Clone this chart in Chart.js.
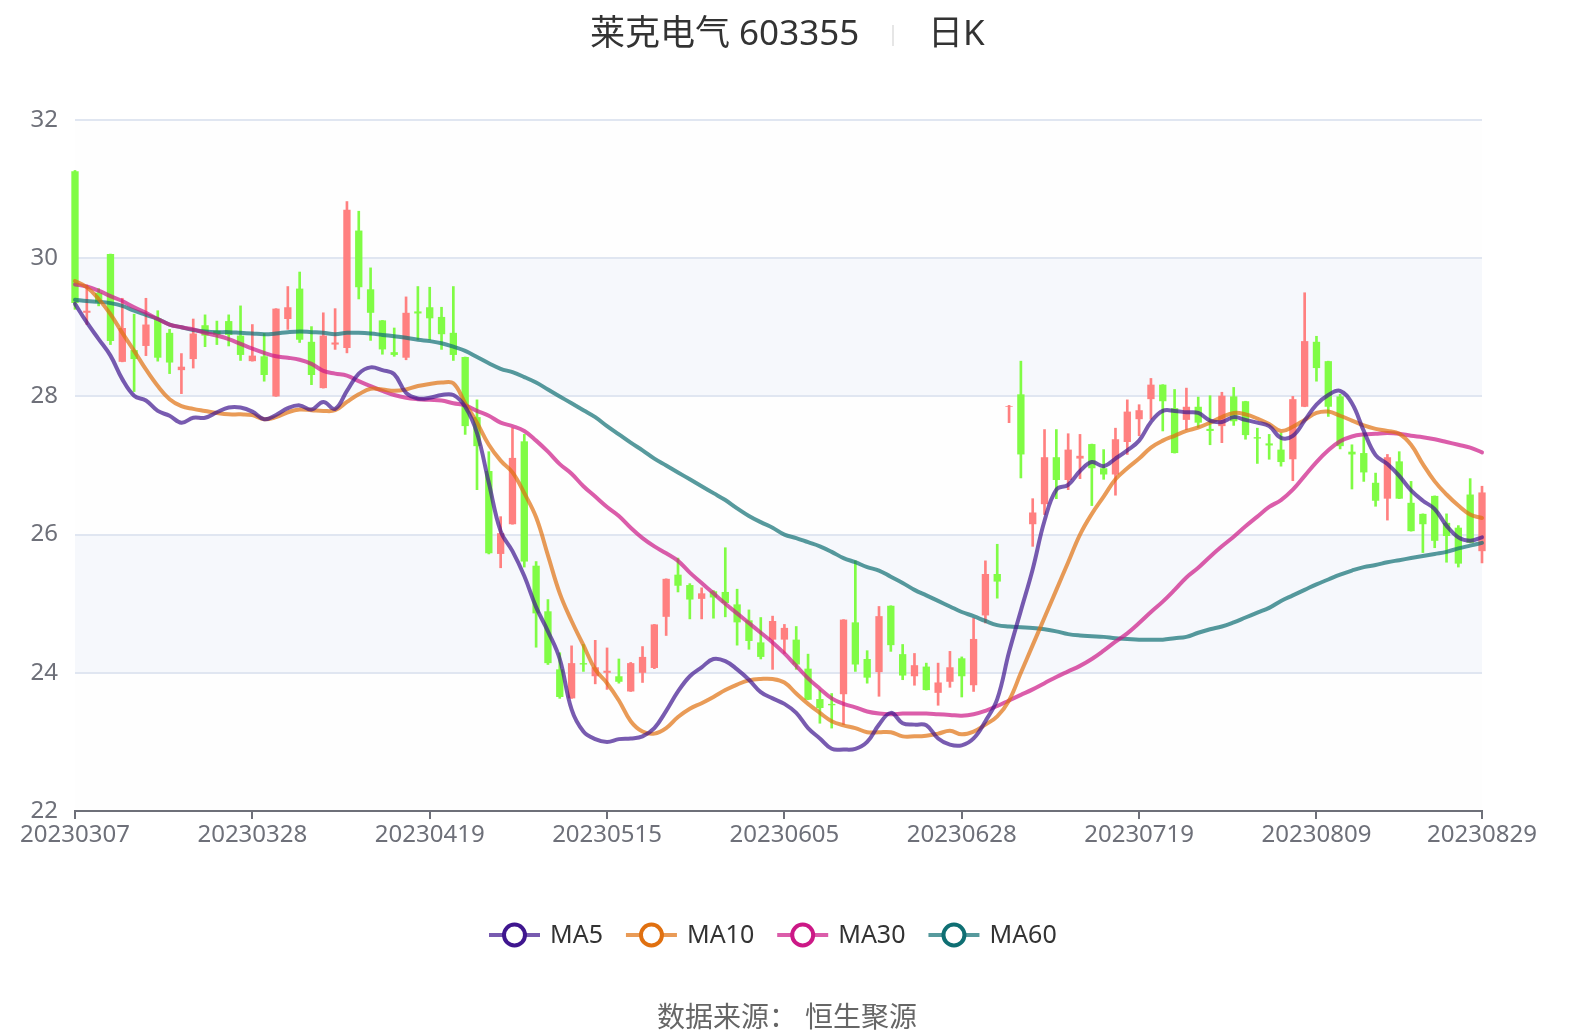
<!DOCTYPE html>
<html>
<head>
<meta charset="utf-8">
<script src="https://cdn.jsdelivr.net/npm/chart.js@4.4.0/dist/chart.umd.min.js"></script>
<style>
  html, body { margin: 0; padding: 0; background: #fff; }
  #wrap { width: 1574px; height: 1034px; }
</style>
</head>
<body>
<div id="wrap"><canvas id="kline" width="1574" height="1034"></canvas></div>
<script>
// trading days
const dates = [
  '20230307','20230308','20230309','20230310','20230313','20230314','20230315','20230316','20230317','20230320',
  '20230321','20230322','20230323','20230324','20230327','20230328','20230329','20230330','20230331','20230403',
  '20230404','20230406','20230407','20230410','20230411','20230412','20230413','20230414','20230417','20230418',
  '20230419','20230420','20230421','20230424','20230425','20230426','20230427','20230428','20230504','20230505',
  '20230508','20230509','20230510','20230511','20230512','20230515','20230516','20230517','20230518','20230519',
  '20230522','20230523','20230524','20230525','20230526','20230529','20230530','20230531','20230601','20230602',
  '20230605','20230606','20230607','20230608','20230609','20230612','20230613','20230614','20230615','20230616',
  '20230619','20230620','20230621','20230626','20230627','20230628','20230629','20230630','20230703','20230704',
  '20230705','20230706','20230707','20230710','20230711','20230712','20230713','20230714','20230717','20230718',
  '20230719','20230720','20230721','20230724','20230725','20230726','20230727','20230728','20230731','20230801',
  '20230802','20230803','20230804','20230807','20230808','20230809','20230810','20230811','20230814','20230815',
  '20230816','20230817','20230818','20230821','20230822','20230823','20230824','20230825','20230828','20230829'
];
const tickDates = ['20230307','20230328','20230419','20230515','20230605','20230628','20230719','20230809','20230829'];
const yTicks = [22, 24, 26, 28, 30, 32];

const opens = [
  31.26,29.21,29.50,30.06,28.50,28.67,28.73,29.13,28.92,28.38,
  28.54,29.03,28.95,29.09,28.88,28.51,28.58,28.00,29.12,29.56,
  28.79,28.12,28.75,28.70,30.40,29.55,29.10,28.64,28.56,29.23,
  29.29,29.15,28.92,28.57,27.70,26.92,25.72,26.15,27.35,25.55,
  24.89,24.05,23.63,24.14,23.95,24.00,23.95,23.73,24.00,24.07,
  24.81,25.42,25.27,25.07,25.18,25.17,24.99,24.76,24.44,24.48,
  24.48,24.48,24.06,23.62,23.55,23.69,24.73,24.20,24.01,24.97,
  24.27,23.95,24.09,23.71,23.87,24.21,23.82,24.83,25.43,27.85,
  28.03,26.15,26.44,27.12,26.79,27.10,27.31,26.96,26.87,27.34,
  27.67,27.96,28.17,27.83,27.66,27.85,27.53,27.57,28.00,27.93,
  27.41,27.32,27.23,27.09,27.85,28.79,28.51,28.00,27.20,27.18,
  26.75,26.52,27.06,26.46,26.30,26.56,26.17,26.10,26.58,25.76
];
const closes = [
  29.35,29.24,29.36,28.80,28.99,28.54,29.04,28.56,28.49,28.43,
  28.91,28.88,28.89,28.89,28.60,28.59,28.31,29.27,29.29,28.82,
  28.31,28.88,28.78,30.70,29.58,29.21,28.68,28.60,29.21,29.20,
  29.13,28.90,28.60,27.57,27.28,25.73,26.02,27.11,25.61,24.86,
  24.14,23.65,24.14,24.12,24.08,24.03,23.87,24.14,24.23,24.70,
  25.36,25.26,25.06,25.15,25.09,25.01,24.73,24.46,24.23,24.75,
  24.65,24.12,23.61,23.49,23.53,24.77,24.12,23.93,24.82,24.40,
  23.96,24.11,23.75,23.86,24.08,23.95,24.49,25.43,25.32,27.86,
  27.16,26.32,27.12,26.79,27.23,27.14,26.96,26.87,27.38,27.78,
  27.80,28.17,27.93,27.18,27.85,27.62,27.50,28.01,27.64,27.44,
  27.39,27.29,27.05,27.96,28.80,28.41,27.85,27.28,27.16,26.90,
  26.49,27.12,26.52,26.05,26.15,25.91,25.98,25.58,25.88,26.61
];
const lows = [
  29.26,29.04,29.31,28.75,28.50,28.07,28.59,28.51,28.33,28.04,
  28.41,28.72,28.75,28.73,28.52,28.51,28.22,28.00,28.97,28.78,
  28.17,28.12,28.68,28.63,29.41,28.81,28.61,28.58,28.53,28.82,
  28.82,28.68,28.52,27.45,26.65,25.72,25.52,26.15,25.53,24.37,
  24.12,23.63,23.63,24.02,23.84,23.76,23.85,23.73,23.86,24.06,
  24.54,25.17,24.78,24.78,24.79,24.81,24.40,24.34,24.20,24.05,
  24.28,24.05,23.61,23.27,23.20,23.25,24.02,23.85,23.66,24.31,
  23.90,23.82,23.75,23.53,23.79,23.65,23.73,24.72,25.08,27.62,
  26.82,25.83,26.29,26.52,26.65,26.81,26.42,26.80,26.57,27.16,
  27.43,27.67,27.50,27.18,27.52,27.55,27.30,27.33,27.58,27.38,
  27.03,27.09,26.99,26.78,27.85,28.22,27.71,27.24,26.66,26.77,
  26.41,26.21,26.52,26.05,25.74,25.81,25.60,25.53,25.88,25.59
];
const highs = [
  31.27,29.61,29.56,30.06,29.42,29.19,29.42,29.24,28.97,28.62,
  29.12,29.18,29.09,29.18,29.31,29.04,28.91,29.27,29.59,29.80,
  29.01,29.21,29.27,30.82,30.68,29.86,29.10,28.99,29.44,29.59,
  29.58,29.29,29.59,28.57,27.95,27.20,26.26,27.54,27.45,25.61,
  25.06,24.29,24.39,24.41,24.47,24.36,24.20,24.15,24.38,24.70,
  25.36,25.66,25.29,25.23,25.19,25.81,25.21,24.91,24.80,24.82,
  24.70,24.67,24.27,23.75,23.70,24.77,25.62,24.32,24.96,24.97,
  24.41,24.28,24.14,24.14,24.31,24.23,24.79,25.62,25.86,27.87,
  28.51,26.52,27.52,27.52,27.46,27.45,27.31,27.23,27.54,27.95,
  27.88,28.26,28.17,28.10,28.12,27.99,28.01,28.06,28.13,27.93,
  27.54,27.45,27.47,28.00,29.50,28.87,28.51,28.03,27.30,27.47,
  26.89,27.16,27.20,26.77,26.30,26.56,26.30,26.13,26.81,26.70
];

const ma5 = [
  29.34,29.07,28.83,28.59,28.25,28.01,27.94,27.79,27.72,27.62,
  27.69,27.69,27.77,27.84,27.84,27.78,27.67,27.73,27.83,27.87,
  27.81,27.92,27.82,28.08,28.33,28.42,28.38,28.32,28.05,27.97,
  27.98,28.02,28.02,27.85,27.47,26.75,26.05,25.76,25.40,24.95,
  24.60,24.20,23.47,23.15,23.04,23.00,23.04,23.05,23.08,23.20,
  23.45,23.73,23.95,24.08,24.20,24.17,24.05,23.90,23.72,23.63,
  23.55,23.42,23.20,23.05,22.90,22.89,22.90,23.00,23.25,23.42,
  23.27,23.25,23.24,23.05,22.96,22.95,23.05,23.30,23.62,24.30,
  24.90,25.50,26.20,26.65,26.72,26.92,27.05,26.99,27.10,27.22,
  27.36,27.63,27.79,27.79,27.77,27.76,27.65,27.63,27.70,27.66,
  27.62,27.57,27.40,27.43,27.65,27.88,28.02,28.08,27.90,27.50,
  27.15,27.02,26.85,26.64,26.49,26.37,26.13,25.96,25.91,25.96
];
const ma10 = [
  29.67,29.58,29.41,29.19,28.92,28.66,28.39,28.15,27.96,27.86,
  27.82,27.79,27.76,27.74,27.74,27.73,27.67,27.70,27.77,27.81,
  27.80,27.79,27.80,27.92,28.03,28.11,28.10,28.08,28.10,28.15,
  28.18,28.20,28.19,27.90,27.62,27.30,27.07,26.90,26.60,26.25,
  25.70,25.15,24.75,24.40,24.05,23.85,23.60,23.30,23.15,23.12,
  23.20,23.36,23.48,23.56,23.65,23.75,23.83,23.89,23.91,23.91,
  23.86,23.70,23.55,23.42,23.30,23.24,23.20,23.14,23.14,23.14,
  23.08,23.08,23.09,23.12,23.16,23.11,23.15,23.25,23.37,23.60,
  24.00,24.40,24.80,25.20,25.60,26.00,26.30,26.55,26.80,26.96,
  27.10,27.26,27.36,27.43,27.50,27.55,27.62,27.70,27.76,27.74,
  27.68,27.60,27.50,27.56,27.66,27.76,27.78,27.72,27.65,27.58,
  27.53,27.50,27.46,27.30,27.02,26.77,26.58,26.42,26.29,26.24
];
const ma30 = [
  29.62,29.59,29.53,29.45,29.38,29.29,29.21,29.12,29.04,29.00,
  28.97,28.92,28.88,28.83,28.76,28.69,28.63,28.58,28.56,28.53,
  28.47,28.37,28.33,28.30,28.22,28.15,28.08,28.02,27.98,27.96,
  27.95,27.94,27.90,27.87,27.79,27.72,27.62,27.57,27.50,27.36,
  27.20,27.02,26.88,26.70,26.55,26.40,26.27,26.10,25.95,25.83,
  25.73,25.62,25.45,25.30,25.15,25.00,24.86,24.72,24.58,24.44,
  24.28,24.10,23.92,23.77,23.63,23.55,23.50,23.44,23.41,23.40,
  23.41,23.41,23.41,23.40,23.39,23.38,23.40,23.45,23.52,23.60,
  23.68,23.76,23.85,23.94,24.02,24.10,24.20,24.32,24.45,24.57,
  24.72,24.88,25.03,25.20,25.38,25.52,25.68,25.83,25.97,26.12,
  26.26,26.40,26.50,26.65,26.85,27.05,27.22,27.35,27.42,27.45,
  27.46,27.47,27.46,27.43,27.41,27.38,27.34,27.30,27.26,27.19
];
const ma60 = [
  29.40,29.38,29.37,29.35,29.31,29.24,29.18,29.12,29.04,29.00,
  28.96,28.94,28.93,28.93,28.92,28.91,28.90,28.91,28.93,28.94,
  28.93,28.92,28.90,28.92,28.92,28.91,28.89,28.87,28.85,28.82,
  28.80,28.77,28.72,28.66,28.57,28.48,28.40,28.35,28.28,28.20,
  28.10,28.00,27.90,27.80,27.70,27.57,27.45,27.33,27.22,27.10,
  27.00,26.90,26.80,26.70,26.60,26.50,26.38,26.27,26.18,26.10,
  26.00,25.95,25.89,25.83,25.75,25.66,25.60,25.53,25.48,25.39,
  25.30,25.20,25.12,25.04,24.96,24.88,24.82,24.75,24.69,24.67,
  24.66,24.65,24.63,24.60,24.56,24.54,24.53,24.52,24.50,24.49,
  24.48,24.48,24.48,24.50,24.52,24.58,24.63,24.67,24.73,24.80,
  24.87,24.94,25.04,25.12,25.20,25.28,25.35,25.42,25.48,25.53,
  25.56,25.60,25.63,25.66,25.69,25.72,25.75,25.80,25.84,25.88
];

const titleName = '莱克电气 603355';
const titlePeriod = '日K';
const sourceLabel = '数据来源：';
const sourceName = '恒生聚源';

const FONT = '"Noto Sans", "Noto Sans CJK SC", sans-serif';
const AXIS = '#6e7079';
const UP = '#ff8080';
const DOWN = '#80fc45';
const candleColors = opens.map((o, i) => (closes[i] >= o ? UP : DOWN));

const maSeries = [
  { label: 'MA5', data: ma5, line: 'rgba(63,22,143,0.7)', dot: '#3f168f' },
  { label: 'MA10', data: ma10, line: 'rgba(224,112,16,0.7)', dot: '#e07010' },
  { label: 'MA30', data: ma30, line: 'rgba(204,24,134,0.7)', dot: '#cc1886' },
  { label: 'MA60', data: ma60, line: 'rgba(15,111,115,0.7)', dot: '#0f6f73' }
];

// background bands, title, legend, footer
const decor = {
  id: 'decor',
  beforeDraw(chart) {
    const { ctx, chartArea: a, scales: { y } } = chart;
    ctx.save();
    for (let k = 0; k < yTicks.length - 1; k++) {
      const top = y.getPixelForValue(yTicks[k + 1]);
      const bottom = y.getPixelForValue(yTicks[k]);
      ctx.fillStyle = k % 2 === 0 ? '#fefefe' : '#f6f8fc';
      ctx.fillRect(a.left, top, a.right - a.left, bottom - top);
    }
    ctx.restore();
  },
  afterDraw(chart) {
    const ctx = chart.ctx;
    ctx.save();
    ctx.textBaseline = 'middle';
    ctx.textAlign = 'left';

    // title
    ctx.fillStyle = '#333';
    ctx.font = `35px ${FONT}`;
    ctx.fillText(titleName, 590, 35);
    ctx.fillText(titlePeriod, 928, 35);
    ctx.strokeStyle = '#e6e6e6';
    ctx.lineWidth = 2;
    ctx.beginPath();
    ctx.moveTo(893, 25);
    ctx.lineTo(893, 46);
    ctx.stroke();

    // legend
    ctx.font = `25px ${FONT}`;
    let x = 489;
    const ly = 935;
    maSeries.forEach(s => {
      ctx.strokeStyle = s.line;
      ctx.lineWidth = 4;
      ctx.beginPath();
      ctx.moveTo(x, ly);
      ctx.lineTo(x + 51, ly);
      ctx.stroke();
      ctx.beginPath();
      ctx.arc(x + 25.5, ly, 10.5, 0, Math.PI * 2);
      ctx.fillStyle = '#fff';
      ctx.fill();
      ctx.strokeStyle = s.dot;
      ctx.lineWidth = 4;
      ctx.stroke();
      ctx.fillStyle = '#333';
      ctx.fillText(s.label, x + 61, ly + 1);
      x += 61 + ctx.measureText(s.label).width + 23;
    });

    // source
    ctx.font = `28px ${FONT}`;
    ctx.fillStyle = '#666';
    ctx.fillText(sourceLabel, 657, 1019);
    ctx.fillText(sourceName, 805, 1019);
    ctx.restore();
  }
};

new Chart(document.getElementById('kline'), {
  type: 'bar',
  data: {
    labels: dates,
    datasets: [
      {
        label: 'wick',
        data: lows.map((l, i) => [l, highs[i]]),
        backgroundColor: candleColors,
        barThickness: 2,
        grouped: false,
        order: 3,
        clip: false
      },
      {
        label: 'body',
        data: opens.map((o, i) => [o, closes[i]]),
        backgroundColor: candleColors,
        barPercentage: 0.62,
        categoryPercentage: 1,
        grouped: false,
        order: 2,
        clip: false
      },
      ...maSeries.map(s => ({
        type: 'line',
        label: s.label,
        data: s.data,
        borderColor: s.line,
        borderWidth: 4,
        pointRadius: 0,
        tension: 0.4,
        borderCapStyle: 'round',
        borderJoinStyle: 'round',
        order: 1,
        clip: false
      }))
    ]
  },
  options: {
    responsive: false,
    devicePixelRatio: 1,
    animation: false,
    events: [],
    layout: { padding: { top: 120, right: 92, bottom: 183, left: 0 } },
    plugins: {
      legend: { display: false },
      tooltip: { enabled: false }
    },
    scales: {
      x: {
        type: 'category',
        offset: false,
        afterFit: scale => { scale.height = 40; },
        grid: {
          offset: false,
          drawOnChartArea: false,
          drawTicks: true,
          tickLength: 8,
          lineWidth: 2,
          tickColor: ctx => (tickDates.includes(dates[ctx.index]) ? AXIS : 'rgba(0,0,0,0)')
        },
        border: { display: true, color: AXIS, width: 2 },
        ticks: {
          autoSkip: false,
          maxRotation: 0,
          minRotation: 0,
          padding: 2,
          color: AXIS,
          font: { family: FONT, size: 24 },
          callback: (v, i) => (tickDates.includes(dates[i]) ? dates[i] : '')
        }
      },
      y: {
        min: 22,
        max: 32,
        afterFit: scale => { scale.width = 75; },
        grid: { color: '#e0e6f1', lineWidth: 2, drawTicks: false },
        border: { display: false },
        ticks: {
          stepSize: 2,
          padding: 17,
          color: AXIS,
          font: { family: FONT, size: 24 }
        }
      }
    }
  },
  plugins: [decor]
});
</script>
</body>
</html>
